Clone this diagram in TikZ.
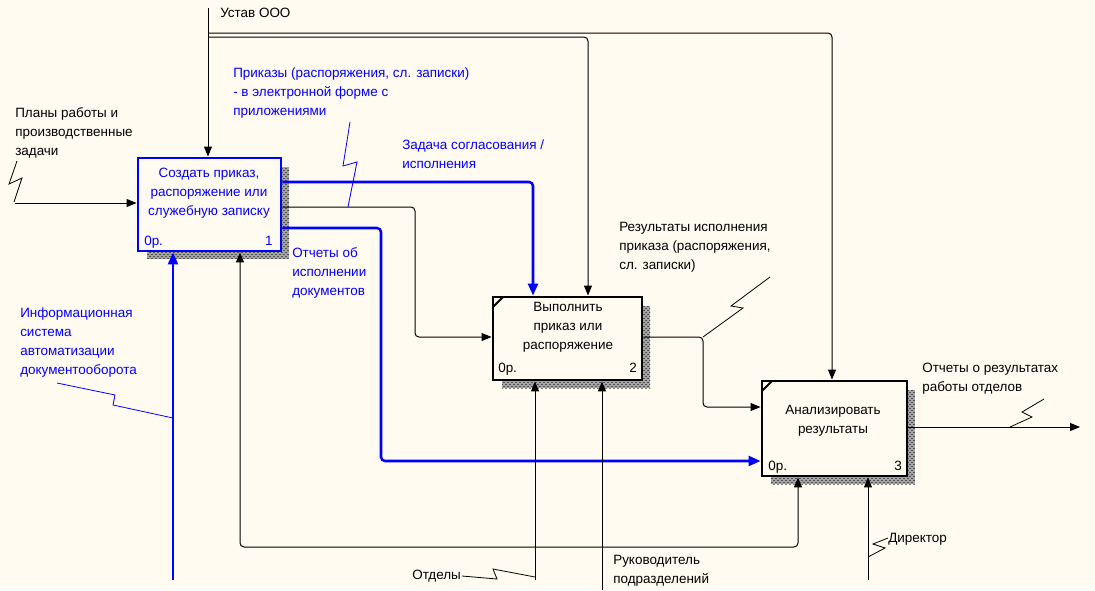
\documentclass[tikz,border=0pt]{standalone}
\usepackage{fontspec}
\setmainfont{Liberation Sans}
\usetikzlibrary{arrows.meta, patterns}
\definecolor{bgcream}{RGB}{255,251,240}
\definecolor{idefblue}{RGB}{0,0,255}

\tikzset{
	box/.style={draw, line width=2.2pt, fill=bgcream, inner sep=0},
	shade/.style={fill=black!35, postaction={pattern=crosshatch dots, pattern color=black}},
	arr/.style={line width=0.75pt, -{Triangle[length=7.5pt, width=6pt]}, rounded corners=3pt},
	bluearr/.style={line width=1.9pt, draw=idefblue, -{Triangle[length=9pt, width=7.5pt]}, rounded corners=3pt},
	squig/.style={line width=0.6pt},
	lbl/.style={anchor=north west, inner sep=0, align=left}
}

\begin{document}
\begin{tikzpicture}[x=0.75pt, y=-0.75pt, font=\fontsize{10.1}{14.25}\selectfont]
		\fill [bgcream] (0,0) rectangle (1095,590);
		%shadows
			\fill [shade] (147,167) rectangle (289,259);
			\fill [shade] (502,306) rectangle (650,388);
			\fill [shade] (771,390) rectangle (915,484);
		%boxes
			\node [box, draw=idefblue, minimum width=107.25pt, minimum height=69.75pt] (b1) at (209.5,204.5) {};
			\node [box, minimum width=111.75pt, minimum height=62.25pt] (b2) at (567.5,338.5) {};
			\node [box, minimum width=108.75pt, minimum height=71.25pt] (b3) at (834.5,428.5) {};
			\draw [line width=1.5pt] (493,307) to (503,297);
			\draw [line width=1.5pt] (762,391) to (772,381);
			\node [align=center, text=idefblue] (t1) at (209,193) {Создать приказ,\\распоряжение или\\служебную записку};
			\node [align=center] (t2) at (568,327) {Выполнить\\приказ или\\распоряжение};
			\node [align=center] (t3) at (833,421) {Анализировать\\результаты};
			\node [anchor=base west, inner sep=0, text=idefblue] (n1a) at (144,245) {0р.};
			\node [anchor=base east, inner sep=0, text=idefblue] (n1b) at (273,245) {1};
			\node [anchor=base west, inner sep=0] (n2a) at (498,372) {0р.};
			\node [anchor=base east, inner sep=0] (n2b) at (637,372) {2};
			\node [anchor=base west, inner sep=0] (n3a) at (768,470) {0р.};
			\node [anchor=base east, inner sep=0] (n3b) at (902,470) {3};
		%controls
			\coordinate (ustav) at (208,8);
			\draw [arr] (ustav) to (ustav |- b1.north);
			\draw [arr] (ustav |- 0,33) -| (832,0 |- b3.north);
			\draw [arr] (ustav |- 0,37) -| (588,0 |- b2.north);
			\node [lbl] (lustav) at (220,8) {Устав ООО};
		%inputs
			\coordinate (plans) at (15,203);
			\draw [arr] (plans) to (b1.west |- plans);
			\node [lbl] (lplans) at (15,107) {Планы работы и\\производственные\\задачи};
			\draw [squig] (17,161) to (9,184) to (22,178) to (14,202);
		%outputs of 1
			\draw [bluearr] (b1.east |- 0,182) -| (533,0 |- b2.north);
			\draw [arr] (b1.east |- 0,207) -| (415,337) to (b2.west |- 0,337);
			\draw [bluearr] (b1.east |- 0,228) -| (381,461) to (b3.west |- 0,461);
			\node [lbl, text=idefblue] (lzad) at (402,139) {Задача согласования /\\исполнения};
			\node [lbl, text=idefblue] (lprik) at (233,67) {Приказы (распоряжения, сл. записки)\\- в электронной форме с\\приложениями};
			\draw [squig, idefblue] (350,122) to (343,166) to (357,162) to (348,207);
			\node [lbl, text=idefblue] (lotch) at (292,247) {Отчеты об\\исполнении\\документов};
		%output of 2
			\draw [arr] (b2.east |- 0,337) -| (703,407) to (b3.west |- 0,407);
			\node [lbl] (lres) at (619,222) {Результаты исполнения\\приказа (распоряжения,\\сл. записки)};
			\draw [squig] (770,277) to (731,306) to (743,308) to (703,337);
		%output of 3
			\coordinate (otchres) at (1080,427);
			\draw [arr] (b3.east |- otchres) to (otchres);
			\node [lbl] (lotres) at (922,363) {Отчеты о результатах\\работы отделов};
			\draw [squig] (1044,399) to (1022,412) to (1032,417) to (1010,427);
		%mechanisms
			\coordinate (ais) at (173,580);
			\draw [bluearr] (ais) to (ais |- b1.south);
			\node [lbl, text=idefblue] (lais) at (20,307) {Информационная\\система\\автоматизации\\документооборота};
			\draw [squig, idefblue] (57,383) to (115,395) to (113,405) to (173,418);
			\coordinate (otdely) at (535,580);
			\draw [arr] (otdely) to (otdely |- b2.south);
			\node [lbl] (lotd) at (412,570) {Отделы};
			\draw [squig] (462,576) to (497,579) to (493,569) to (535,577);
			\coordinate (ruk) at (602,590);
			\draw [arr] (ruk) to (ruk |- b2.south);
			\draw [arr] (ruk |- 0,547) -| (240,0 |- b1.south);
			\draw [arr] (ruk |- 0,547) -| (798,0 |- b3.south);
			\node [lbl] (lruk) at (613,555) {Руководитель\\подразделений};
			\coordinate (dir) at (868,580);
			\draw [arr] (dir) to (dir |- b3.south);
			\node [lbl] (ldir) at (888,533) {Директор};
			\draw [squig] (868,557) to (885,548) to (873,544) to (888,538);
\end{tikzpicture}
\end{document}
